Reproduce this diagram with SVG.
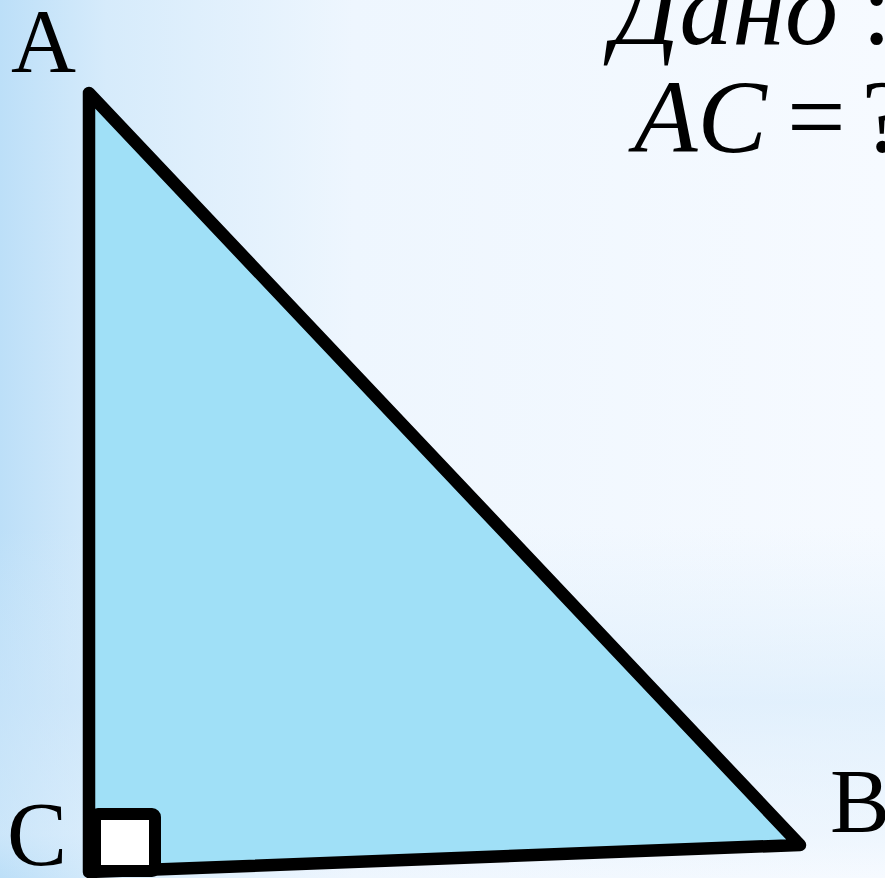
<svg xmlns="http://www.w3.org/2000/svg" width="885" height="878" viewBox="0 0 885 878">
  <defs>
    <linearGradient id="bg" x1="0" y1="0" x2="1" y2="0">
      <stop offset="0" stop-color="#BCDFF8"/>
      <stop offset="0.12" stop-color="#D6EBFB"/>
      <stop offset="0.4" stop-color="#EEF6FE"/>
      <stop offset="1" stop-color="#F6FAFF"/>
    </linearGradient>
    <linearGradient id="band" x1="0" y1="0" x2="0" y2="1">
      <stop offset="0" stop-color="#D8ECFB" stop-opacity="0"/>
      <stop offset="0.6" stop-color="#D8ECFB" stop-opacity="0"/>
      <stop offset="0.8" stop-color="#CFE7FA" stop-opacity="0.5"/>
      <stop offset="0.95" stop-color="#E2F0FC" stop-opacity="0.4"/>
      <stop offset="1" stop-color="#E2F0FC" stop-opacity="0"/>
    </linearGradient>
    <style>
      .lbl { font-family: "Liberation Serif", "Times New Roman", serif; fill: #000; }
      .edge { fill: none; stroke: #000; stroke-width: 12.5; stroke-linejoin: round; stroke-linecap: round; }
    </style>
  </defs>
  <rect x="0" y="0" width="885" height="878" fill="url(#bg)"/>
  <rect x="0" y="0" width="885" height="878" fill="url(#band)"/>

  <g id="triangle">
    <polygon points="89,93 800,845 89,872" fill="#A0E0F7"/>
    <g id="connectors">
      <path class="edge" d="M89,93 L800,845 L89,872 Z"/>
    </g>
  </g>

  <g id="right-angle">
    <rect x="95" y="814" width="60" height="57" rx="3" fill="#FFFFFF" stroke="#000" stroke-width="12"/>
  </g>

  <g id="label-A"><text class="lbl" x="11" y="72" font-size="90">A</text></g>
  <g id="label-C"><text class="lbl" x="7" y="865" font-size="90">C</text></g>
  <g id="label-B"><text class="lbl" x="830" y="832" font-size="90">B</text></g>

  <g id="given">
    <text class="lbl" x="612" y="44" font-size="106" font-style="italic">Дано<tspan font-style="normal" dx="24">:</tspan></text>
    <text class="lbl" x="634" y="152" font-size="104"><tspan font-style="italic">AC</tspan><tspan dx="20">=</tspan><tspan dx="16">?</tspan></text>
  </g>
</svg>
